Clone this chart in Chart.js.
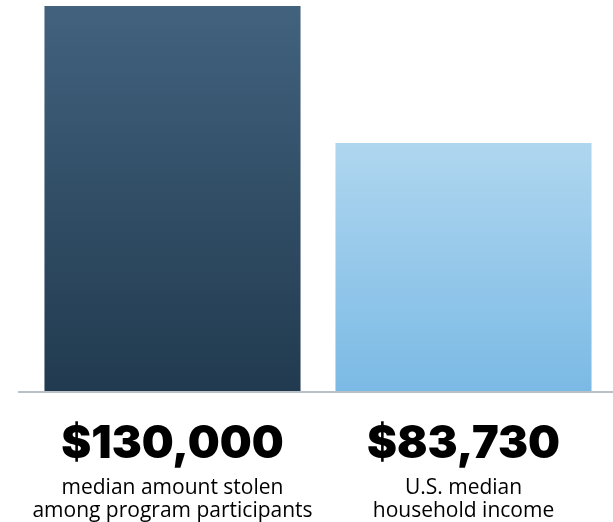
<!DOCTYPE html>
<html>
<head>
<meta charset="utf-8">
<script src="https://cdn.jsdelivr.net/npm/chart.js@4/dist/chart.umd.min.js"></script>
<style>
  html, body { margin: 0; padding: 0; background: #fff; }
  #wrap { width: 613px; height: 522px; }
</style>
</head>
<body>
<div id="wrap"><canvas id="chart"></canvas></div>
<script>
// data
const categories = ['stolen', 'income'];
const amounts = [130000, 83730];
const valueLabels = ['$130,000', '$83,730'];
const descLines = [
  ['median amount stolen', 'among program participants'],
  ['U.S. median', 'household income']
];

const topColors = ['#42627e', '#afd6ef'];
const bottomColors = ['#213a4f', '#7bbae5'];

function barGradient(ctx) {
  const chart = ctx.chart;
  const area = chart.chartArea;
  const ys = chart.scales.y;
  if (!area || !ys) return topColors[ctx.dataIndex];
  const top = ys.getPixelForValue(amounts[ctx.dataIndex]);
  if (!isFinite(top) || !isFinite(area.bottom)) return topColors[ctx.dataIndex];
  const g = chart.ctx.createLinearGradient(0, top, 0, area.bottom);
  g.addColorStop(0, topColors[ctx.dataIndex]);
  g.addColorStop(1, bottomColors[ctx.dataIndex]);
  return g;
}

//baseline + labels under the bars
const labelPlugin = {
  id: 'labelPlugin',
  afterDatasetsDraw(chart) {
    const c = chart.ctx;
    const xs = chart.scales.x;
    const base = chart.chartArea.bottom;
    c.save();
    c.strokeStyle = '#b9c0c7';
    c.lineWidth = 2;
    c.beginPath();
    c.moveTo(18, base + 1);
    c.lineTo(chart.width, base + 1);
    c.stroke();

    c.textAlign = 'center';
    c.textBaseline = 'alphabetic';
    c.fillStyle = '#000';
    categories.forEach((cat, i) => {
      const x = xs.getPixelForValue(i);
      c.font = '900 45px Inter, "Open Sans", sans-serif';
      c.fillText(valueLabels[i], x, 458);
      c.font = '400 21px "Open Sans", Inter, sans-serif';
      c.fillText(descLines[i][0], x, 494);
      c.fillText(descLines[i][1], x, 517);
    });
    c.restore();
  }
};

new Chart(document.getElementById('chart'), {
  type: 'bar',
  data: {
    labels: categories,
    datasets: [{
      data: amounts,
      backgroundColor: barGradient,
      borderWidth: 0,
      barPercentage: 0.88,
      categoryPercentage: 1
    }]
  },
  options: {
    responsive: true,
    maintainAspectRatio: false,
    animation: false,
    layout: { padding: { top: 6, left: 27, right: 4, bottom: 123 } },
    plugins: { legend: { display: false }, tooltip: { enabled: false } },
    scales: {
      x: {
        grid: { display: false },
        border: { display: false },
        ticks: { display: false }
      },
      y: {
        display: false,
        min: 0,
        max: 130000
      }
    }
  },
  plugins: [labelPlugin]
});
</script>
</body>
</html>
